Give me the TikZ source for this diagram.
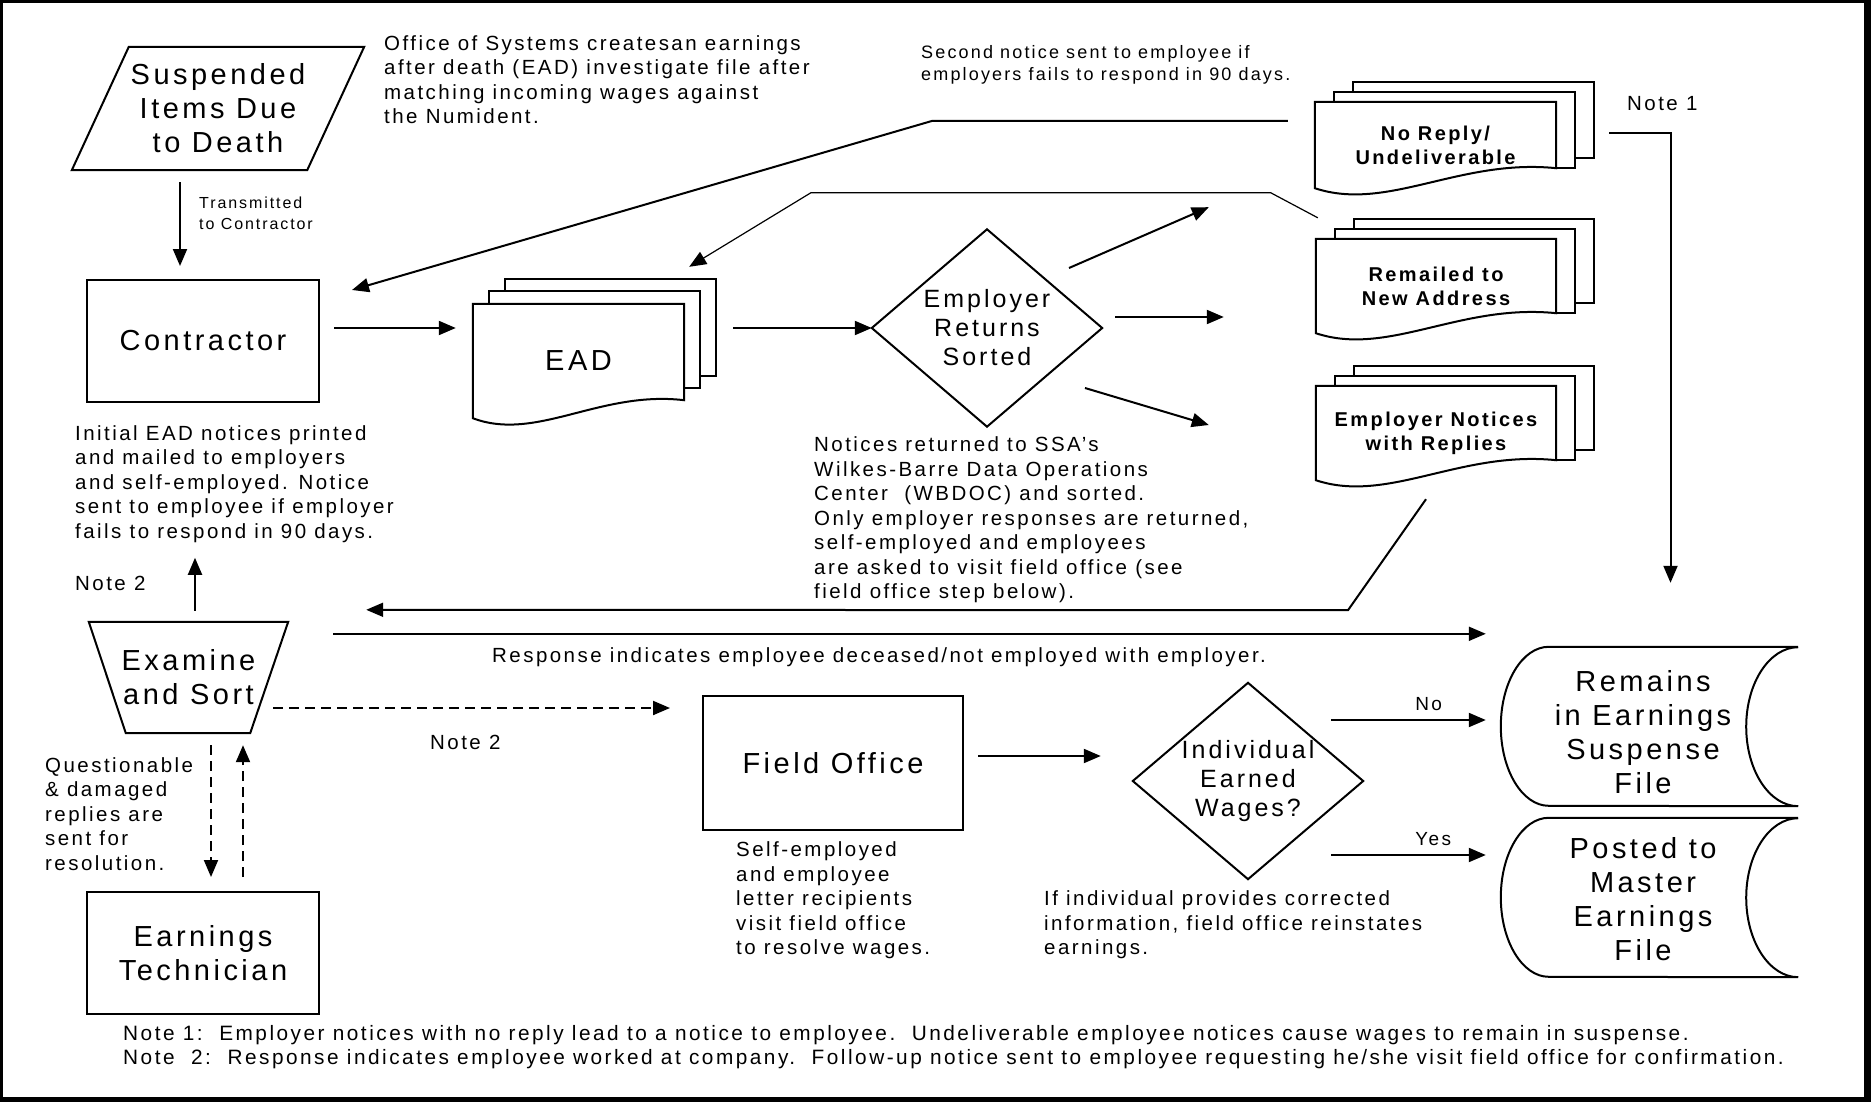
\documentclass[tikz,border=0pt]{standalone}
\usepackage{fontspec}
\setmainfont{Liberation Sans}[LetterSpace=12]
\usetikzlibrary{arrows.meta,calc}

\newcommand{\boxfont}{\fontsize{29}{34}\selectfont}
\newcommand{\diafont}{\fontsize{25}{29}\selectfont}
\newcommand{\docfont}{\fontsize{20}{24}\selectfont\bfseries}
\newcommand{\txtfont}{\fontsize{20.5}{24.5}\selectfont}

\tikzset{
  frame/.style={line width=2pt},
  arr/.style={line width=2pt, -{Triangle[length=17pt,width=14pt]}},
  dasharr/.style={arr, dash pattern=on 10pt off 6pt},
  box/.style={inner sep=0pt, align=center},
  lbl/.style={inner sep=0pt, align=left, anchor=west, font=\txtfont},
}

\begin{document}
\begin{tikzpicture}[x=1pt, y=-1pt]
        \fill[black] (0,0) rectangle (1871,1102);
        \fill[white] (3,3) rectangle (1864,1097);

        % shapes
        \node[box, minimum width=292pt, minimum height=123pt, font=\boxfont] (susp) at (218,108.5) {Suspended\\Items Due\\to Death};
        \draw[frame] (susp.south west) -- ($(susp.north west)+(57,0)$) -- (susp.north east) -- ($(susp.south east)+(-57,0)$) -- cycle;

        \node[box, draw, frame, minimum width=232pt, minimum height=122pt, font=\boxfont] (contr) at (203,341) {Contractor};
        \node[box, minimum width=211pt, minimum height=114pt, font=\boxfont] (ead) at (578.5,361) {EAD};

        \node[box, minimum width=230pt, minimum height=197pt, font=\diafont] (sorted) at (987,328) {Employer\\Returns\\Sorted};
        \draw[frame] (sorted.north) -- (sorted.east) -- (sorted.south) -- (sorted.west) -- cycle;

        \node[box, minimum width=241pt, minimum height=86pt, font=\docfont] (noreply) at (1435.5,145) {No Reply/\\Undeliverable};
        \node[box, minimum width=240pt, minimum height=94pt, font=\docfont] (remail) at (1436,286) {Remailed to\\New Address};
        \node[box, minimum width=240pt, minimum height=94pt, font=\docfont] (empnot) at (1436,433) {Employer Notices\\with Replies};

        % stacked documents
        \foreach \n/\dx/\dy/\h/\m in {ead/16/12.5/18/12, noreply/19/10/20/0, remail/19/10/20/0, empnot/19/10/20/0} {
          \draw[frame] ($(\n.north west)+(2*\dx,-\dy)$) -- ++(0,-\dy) -| ($(\n.south east)+(2*\dx,-\h-\m-\dy)$) -- ++(-\dx,0);
          \draw[frame] ($(\n.north west)+(\dx,0)$) -- ++(0,-\dy) -| ($(\n.south east)+(\dx,-\h-\m)$) -- ++(-\dx,0);
          \draw[frame] (\n.north west) -- (\n.north east) -- ($(\n.south east)+(0,-\h)$)
            .. controls ($(\n.south west)!0.6!(\n.south east)+(0,-\h-10)$) and ($(\n.south west)!0.3!(\n.south east)+(0,24)$) .. (\n.south west) -- cycle;
        }

        \node[box, minimum width=199pt, minimum height=111pt, font=\boxfont] (exam) at (188.5,677.5) {Examine\\and Sort};
        \draw[frame] (exam.north west) -- (exam.north east) -- ($(exam.south east)+(-38,0)$) -- ($(exam.south west)+(37,0)$) -- cycle;

        \node[box, draw, frame, minimum width=232pt, minimum height=122pt, font=\boxfont] (tech) at (203,953) {Earnings\\Technician};
        \node[box, draw, frame, minimum width=260pt, minimum height=134pt, font=\boxfont] (field) at (833,763) {Field Office};

        \node[box, minimum width=230pt, minimum height=196pt, font=\diafont] (earned) at (1248,781) {Individual\\Earned\\Wages?};
        \draw[frame] (earned.north) -- (earned.east) -- (earned.south) -- (earned.west) -- cycle;

        % stored data
        \node[box, minimum width=297pt, minimum height=159pt, font=\boxfont] (remains) at (1643,732) {Remains\\in Earnings\\Suspense\\File};
        \node[box, minimum width=297pt, minimum height=159pt, font=\boxfont] (posted) at (1643,899) {Posted to\\Master\\Earnings\\File};
        \foreach \n/\sy in {remains/-5.5, posted/-1.5}
          \draw[frame] ($(\n.north east)+(6.5,\sy)$) -- ($(\n.north west)+(54.5,\sy)$) arc[start angle=90, end angle=270, x radius=48pt, y radius=79.5pt]
            -- ($(\n.south east)+(6.5,\sy)$) arc[start angle=270, end angle=90, x radius=52pt, y radius=79.5pt];

        % texts
        \node[lbl] (office) at (384,79.5) {Office of Systems createsan earnings\\after death (EAD) investigate file after\\matching incoming wages against\\the Numident.};
        \node[lbl, font=\fontsize{18}{22}\selectfont] (second) at (921,65) {Second notice sent to employee if\\employers fails to respond in 90 days.};
        \node[lbl, font=\fontsize{16}{21}\selectfont] (trans) at (199,213.5) {Transmitted\\to Contractor};
        \node[lbl] (init) at (75,484) {Initial EAD notices printed\\and mailed to employers\\and self-employed. Notice\\sent to employee if employer\\fails to respond in 90 days.};
        \node[lbl] (note2a) at (75,583) {Note 2};
        \node[lbl] (returned) at (814,520) {Notices returned to SSA’s\\Wilkes-Barre Data Operations\\Center~~(WBDOC) and sorted.\\Only employer responses are returned,\\self-employed and employees\\are asked to visit field office (see\\field office step below).};
        \node[lbl] (resp) at (492,657) {Response indicates employee deceased/not employed with employer.};
        \node[lbl] (note2b) at (430,742) {Note 2};
        \node[lbl] (quest) at (45,814) {Questionable\\\& damaged\\replies are\\sent for\\resolution.};
        \node[lbl] (selfemp) at (736,900.5) {Self-employed\\and employee\\letter recipients\\visit field office\\to resolve wages.};
        \node[lbl] (ifind) at (1044,925) {If individual provides corrected\\information, field office reinstates\\earnings.};
        \node[lbl] (note1) at (1627,104) {Note 1};
        \node[lbl, font=\fontsize{20.8}{24.5}\selectfont] (foot) at (123,1047) {Note 1:~~Employer notices with no reply lead to a notice to employee.~~Undeliverable employee notices cause wages to remain in suspense.\\Note~~2:~~Response indicates employee worked at company.~~Follow-up notice sent to employee requesting he/she visit field office for confirmation.};

        % connectors
        \draw[arr] ($(susp.south)+(-38,12)$) -- ($(contr.north)+(-23,-13)$);
        \draw[arr] ($(contr.east)+(14,-13)$) -- ($(ead.west)+(-17,-33)$);
        \draw[arr] ($(ead.east)+(49,-33)$) -- (sorted.west);
        \draw[arr] ($(sorted.center)+(82,-60)$) -- ($(noreply.south west)+(-106,19)$);
        \draw[arr] ($(sorted.east)+(13,-11)$) -- ($(remail.west)+(-92,31)$);
        \draw[arr] ($(sorted.center)+(98,60)$) -- ($(empnot.west)+(-107,-8)$);
        \draw[arr] ($(noreply.west)+(-27,-24)$) -- ++(-356,0) -- ($(contr.north east)+(32,11)$);
        \draw[arr, line width=1.2pt] ($(remail.north west)+(2,-21)$) -- ++(-47,-25) -- ++(-460,0) -- ($(ead.north east)+(5,-37)$);
        \draw[arr] ($(noreply.east)+(53,-12)$) -| ($(remains.north)+(27.5,-69.5)$);
        \draw[arr] ($(empnot.south)+(-10,19)$) -- ++(-78,111) -- ($(exam.north east)+(78,-12)$);
        \draw[arr] ($(exam.north east)+(45,12)$) -- ($(remains.north west)+(-8.5,-18.5)$);
        \draw[arr] ($(exam.north)+(6.5,-11)$) -- ($(exam.north)+(6.5,-64)$);
        \draw[dasharr] ($(exam.east)+(-15,30.5)$) -- ($(field.west)+(-32,-55)$);
        \draw[dasharr] ($(exam.south)+(22.5,12)$) -- ($(tech.north)+(8,-14)$);
        \draw[dasharr] ($(tech.north)+(40,-14)$) -- ($(exam.south)+(54.5,12)$);
        \draw[arr] ($(field.east)+(14,-7)$) -- ($(earned.west)+(-32,-25)$);
        \draw[arr] ($(earned.east)+(-32,-61)$) -- node[pos=0.63, above=8pt, inner sep=0pt, font=\fontsize{19}{22}\selectfont] (nolbl) {No} ($(remains.west)+(-8.5,-12)$);
        \draw[arr] ($(earned.east)+(-32,74)$) -- node[pos=0.66, above=8pt, inner sep=0pt, font=\fontsize{19}{22}\selectfont] (yeslbl) {Yes} ($(posted.west)+(-8.5,-44)$);
      \end{tikzpicture}
\end{document}
